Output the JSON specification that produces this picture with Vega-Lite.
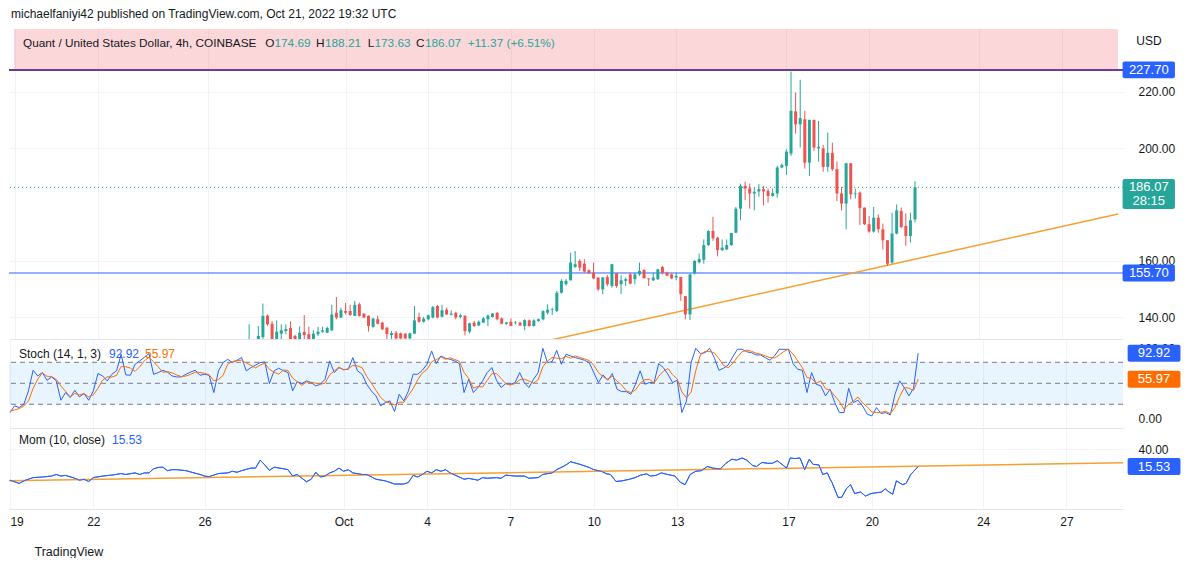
{
  "$schema": "https://vega.github.io/schema/vega-lite/v6.json",
  "background": "white",
  "padding": {"left": 8, "top": 8, "right": 0, "bottom": 0},
  "title": {"text": "michaelfaniyi42 published on TradingView.com, Oct 21, 2022 19:32 UTC", "anchor": "start", "fontSize": 12, "fontWeight": "normal", "color": "#131722", "font": "Liberation Sans", "offset": 8, "dx": 3},
  "config": {
    "font": "Liberation Sans",
    "view": {"stroke": null},
    "concat": {"spacing": 0},
    "text": {"font": "Liberation Sans", "fontSize": 12},
    "axis": {"labelFont": "Liberation Sans", "labelFontSize": 12, "labelColor": "#131722", "gridColor": "#f0f3fa", "domainColor": "#e0e3eb"}
  },
  "datasets": {
    "candles": [
      {"i":51,"o":130,"h":137.5,"l":129,"c":131.5},
      {"i":53,"o":131.5,"h":136.9,"l":130,"c":133.4},
      {"i":54,"o":133,"h":144.9,"l":131,"c":140.5},
      {"i":55,"o":140.6,"h":141,"l":137,"c":137.5},
      {"i":56,"o":137.7,"h":138.7,"l":130.5,"c":131.8},
      {"i":57,"o":131.8,"h":138.9,"l":131,"c":134.9},
      {"i":58,"o":134.2,"h":137.5,"l":131.5,"c":135.4},
      {"i":59,"o":135.1,"h":137.5,"l":134,"c":135.8},
      {"i":60,"o":136.2,"h":138.6,"l":130.8,"c":131.8},
      {"i":61,"o":133.4,"h":133.8,"l":131,"c":132},
      {"i":62,"o":132.2,"h":136.8,"l":131,"c":134.5},
      {"i":63,"o":134.8,"h":140.8,"l":131.5,"c":133.7},
      {"i":64,"o":134,"h":136.6,"l":131.5,"c":132.2},
      {"i":65,"o":132.2,"h":135.4,"l":131.8,"c":134.2},
      {"i":66,"o":134,"h":136.6,"l":133.4,"c":134.9},
      {"i":67,"o":134.9,"h":136.7,"l":134.5,"c":135.4},
      {"i":68,"o":134.5,"h":136.7,"l":134.5,"c":136.2},
      {"i":69,"o":135.4,"h":144.4,"l":135.1,"c":141},
      {"i":70,"o":141.6,"h":147.2,"l":139.3,"c":139.9},
      {"i":71,"o":139.9,"h":143.4,"l":139.9,"c":142.5},
      {"i":72,"o":142.2,"h":145.1,"l":141,"c":141.6},
      {"i":73,"o":142.2,"h":144.4,"l":140.5,"c":140.8},
      {"i":74,"o":140.5,"h":145.8,"l":140.5,"c":144.4},
      {"i":75,"o":144.6,"h":145.2,"l":140.2,"c":140.5},
      {"i":76,"o":141.3,"h":141.4,"l":139.6,"c":139.9},
      {"i":77,"o":140.5,"h":140.7,"l":134.9,"c":136.9},
      {"i":78,"o":136.6,"h":139.9,"l":136.3,"c":139.5},
      {"i":79,"o":139.3,"h":140.6,"l":137.5,"c":137.7},
      {"i":80,"o":138.1,"h":138.4,"l":135.6,"c":135.7},
      {"i":81,"o":136.3,"h":136.6,"l":132,"c":134},
      {"i":82,"o":133.7,"h":135.1,"l":132.3,"c":134.4},
      {"i":83,"o":134.5,"h":135.1,"l":131.5,"c":132.5},
      {"i":84,"o":134.3,"h":134.6,"l":131.5,"c":132.5},
      {"i":85,"o":134.2,"h":134.4,"l":131.8,"c":132.5},
      {"i":86,"o":132.5,"h":134.5,"l":131.8,"c":134.3},
      {"i":87,"o":134.2,"h":144,"l":134,"c":138.9},
      {"i":88,"o":140.1,"h":141.6,"l":138.1,"c":138.4},
      {"i":89,"o":138.4,"h":140.1,"l":138.1,"c":139.5},
      {"i":90,"o":139.3,"h":141,"l":138.9,"c":140.7},
      {"i":91,"o":139.9,"h":144,"l":139.6,"c":143.6},
      {"i":92,"o":144,"h":144.4,"l":139.6,"c":139.9},
      {"i":93,"o":140.2,"h":144.4,"l":139.9,"c":142.5},
      {"i":94,"o":142.7,"h":143.4,"l":140.8,"c":141},
      {"i":95,"o":140.9,"h":142.5,"l":140.6,"c":141.3},
      {"i":96,"o":141.6,"h":141.9,"l":139.3,"c":139.9},
      {"i":97,"o":140.1,"h":141.3,"l":139.6,"c":140.7},
      {"i":98,"o":140.5,"h":140.7,"l":133.6,"c":135.1},
      {"i":99,"o":134.9,"h":138.1,"l":134.3,"c":137.9},
      {"i":100,"o":138.1,"h":138.7,"l":136.6,"c":136.9},
      {"i":101,"o":137.1,"h":138.9,"l":136.9,"c":138.4},
      {"i":102,"o":138.1,"h":140.1,"l":138.1,"c":139.6},
      {"i":103,"o":139.3,"h":141,"l":136.9,"c":140.6},
      {"i":104,"o":140.1,"h":141.5,"l":139.9,"c":141.3},
      {"i":105,"o":141.6,"h":141.8,"l":138.9,"c":139.3},
      {"i":106,"o":139.6,"h":139.9,"l":137.5,"c":137.7},
      {"i":107,"o":137.7,"h":138.4,"l":137.3,"c":138.2},
      {"i":108,"o":138.4,"h":139.6,"l":136.9,"c":136.9},
      {"i":109,"o":137.9,"h":138.7,"l":137.5,"c":138.1},
      {"i":110,"o":138.1,"h":138.4,"l":136.9,"c":137.1},
      {"i":111,"o":136.9,"h":139.3,"l":135.4,"c":139},
      {"i":112,"o":138.9,"h":139.2,"l":136.7,"c":136.9},
      {"i":113,"o":136.9,"h":139.3,"l":136.7,"c":138.9},
      {"i":114,"o":138.7,"h":139.6,"l":138.4,"c":139.3},
      {"i":115,"o":139.3,"h":142.5,"l":138.9,"c":142.2},
      {"i":116,"o":141.6,"h":144.6,"l":141,"c":142.7},
      {"i":117,"o":142.6,"h":143.4,"l":140.8,"c":142.8},
      {"i":118,"o":142.2,"h":149.3,"l":141.9,"c":148.7},
      {"i":119,"o":148.7,"h":153.5,"l":148.4,"c":152.9},
      {"i":120,"o":151.7,"h":153.5,"l":151.2,"c":152.9},
      {"i":121,"o":153.1,"h":162.9,"l":153.1,"c":159.4},
      {"i":122,"o":157.8,"h":163.5,"l":157.6,"c":158.8},
      {"i":123,"o":160,"h":160.6,"l":156.4,"c":157.6},
      {"i":124,"o":159,"h":160.6,"l":155.8,"c":156.2},
      {"i":125,"o":156.7,"h":157,"l":155.4,"c":155.6},
      {"i":126,"o":155.8,"h":159.4,"l":153.5,"c":153.8},
      {"i":127,"o":154.1,"h":154.1,"l":149.3,"c":149.9},
      {"i":128,"o":149.9,"h":154.3,"l":148.2,"c":154.1},
      {"i":129,"o":154.3,"h":155,"l":151,"c":151.7},
      {"i":130,"o":151.1,"h":159,"l":150.5,"c":158.8},
      {"i":131,"o":155.6,"h":155.6,"l":150.5,"c":151.1},
      {"i":132,"o":151.7,"h":154.9,"l":148.2,"c":153.1},
      {"i":133,"o":152.9,"h":154.1,"l":151.1,"c":153.5},
      {"i":134,"o":155.2,"h":155.8,"l":151.7,"c":151.9},
      {"i":135,"o":153.5,"h":155.8,"l":151.7,"c":155.2},
      {"i":136,"o":155.2,"h":159.4,"l":154.7,"c":156.4},
      {"i":137,"o":156.8,"h":157,"l":153.8,"c":153.8},
      {"i":138,"o":153.8,"h":153.8,"l":151.1,"c":153.5},
      {"i":139,"o":153.1,"h":155.8,"l":152.9,"c":154.1},
      {"i":140,"o":153.5,"h":157.2,"l":153.2,"c":157},
      {"i":141,"o":157.8,"h":158.2,"l":155.2,"c":155.8},
      {"i":142,"o":155.8,"h":156.2,"l":154.7,"c":154.7},
      {"i":143,"o":155.2,"h":155.5,"l":153.5,"c":153.8},
      {"i":144,"o":154.1,"h":155.8,"l":153.1,"c":154.7},
      {"i":145,"o":154.3,"h":154.3,"l":145.8,"c":148.2},
      {"i":146,"o":147.5,"h":147.5,"l":139.3,"c":141},
      {"i":147,"o":141,"h":155.5,"l":139,"c":155.2},
      {"i":148,"o":155.5,"h":160.2,"l":155.2,"c":160},
      {"i":149,"o":159.5,"h":162.6,"l":159.1,"c":160.7},
      {"i":150,"o":160.4,"h":167.6,"l":159,"c":165.6},
      {"i":151,"o":165.6,"h":170.8,"l":165.3,"c":170.6},
      {"i":152,"o":170.6,"h":175.6,"l":167.1,"c":168},
      {"i":153,"o":168.2,"h":168.5,"l":161.6,"c":163.8},
      {"i":154,"o":163.8,"h":167.6,"l":163.5,"c":164.7},
      {"i":155,"o":164.1,"h":167.6,"l":163.8,"c":165.6},
      {"i":156,"o":165.6,"h":169.9,"l":165.3,"c":169.9},
      {"i":157,"o":170,"h":179.1,"l":169.8,"c":178.5},
      {"i":158,"o":178.5,"h":187.4,"l":174.4,"c":186.6},
      {"i":159,"o":186.6,"h":188.1,"l":181.5,"c":185.6},
      {"i":160,"o":185.7,"h":187.4,"l":178.5,"c":183.9},
      {"i":161,"o":183.9,"h":186,"l":177.9,"c":184.5},
      {"i":162,"o":184.6,"h":187.2,"l":182.7,"c":185.4},
      {"i":163,"o":185.4,"h":186.6,"l":179.7,"c":184.6},
      {"i":164,"o":184.8,"h":185.7,"l":180.7,"c":183},
      {"i":165,"o":183,"h":185.6,"l":182.8,"c":184},
      {"i":166,"o":183.9,"h":193.7,"l":182.4,"c":193.1},
      {"i":167,"o":193.1,"h":194.5,"l":192.8,"c":194},
      {"i":168,"o":193.7,"h":199.6,"l":190.5,"c":198.7},
      {"i":169,"o":198,"h":227.1,"l":197.2,"c":213.2},
      {"i":170,"o":213,"h":219.7,"l":205.1,"c":208.4},
      {"i":171,"o":208.4,"h":224.2,"l":200.2,"c":210.6},
      {"i":172,"o":210.2,"h":213.2,"l":192.7,"c":194.8},
      {"i":173,"o":194.8,"h":210,"l":190.1,"c":210},
      {"i":174,"o":210,"h":210,"l":199,"c":200.2},
      {"i":175,"o":199.9,"h":209.6,"l":195.2,"c":200.4},
      {"i":176,"o":199.9,"h":201.1,"l":191.6,"c":193.3},
      {"i":177,"o":193.3,"h":205.5,"l":191.6,"c":198.3},
      {"i":178,"o":198.3,"h":201.9,"l":191.9,"c":192.5},
      {"i":179,"o":192.5,"h":195.2,"l":181.2,"c":183.9},
      {"i":180,"o":183.9,"h":186.2,"l":177.9,"c":180.3},
      {"i":181,"o":180.3,"h":194.8,"l":171.2,"c":194.6},
      {"i":182,"o":194.6,"h":194.6,"l":181.8,"c":183.6},
      {"i":183,"o":183.6,"h":185.6,"l":182.1,"c":183.9},
      {"i":184,"o":184.2,"h":184.6,"l":172.7,"c":178.7},
      {"i":185,"o":178.9,"h":178.9,"l":172.7,"c":173},
      {"i":186,"o":173,"h":175.9,"l":170,"c":170.4},
      {"i":187,"o":170.4,"h":179.1,"l":170,"c":175.3},
      {"i":188,"o":175.3,"h":176.5,"l":170,"c":171.2},
      {"i":189,"o":171.2,"h":173.2,"l":164.1,"c":167.3},
      {"i":190,"o":167.3,"h":167.3,"l":158.2,"c":159},
      {"i":191,"o":159.4,"h":177.1,"l":159,"c":169.7},
      {"i":192,"o":169.7,"h":180,"l":169.4,"c":177.9},
      {"i":193,"o":177.7,"h":178.9,"l":171.6,"c":172},
      {"i":194,"o":172.4,"h":176.8,"l":165.3,"c":168.8},
      {"i":195,"o":168.8,"h":177.1,"l":166.5,"c":174.4},
      {"i":196,"o":174.69,"h":188.21,"l":173.63,"c":186.07}
    ],
    "stoch": [
      {"i":0,"k":8.1,"d":10},{"i":1,"k":17.7,"d":12},{"i":2,"k":15.3,"d":13.7},{"i":3,"k":20.1,"d":17.7},{"i":4,"k":39.1,"d":24.8},
      {"i":5,"k":68.6,"d":42.6},{"i":6,"k":60.5,"d":56},{"i":7,"k":65.3,"d":64.8},{"i":8,"k":54.3,"d":60},{"i":9,"k":59.1,"d":59.6},
      {"i":10,"k":53.4,"d":55.6},{"i":11,"k":25.8,"d":46.1},{"i":12,"k":36.7,"d":38.6},{"i":13,"k":29.6,"d":30.7},{"i":14,"k":40,"d":35.4},
      {"i":15,"k":30.5,"d":33.4},{"i":16,"k":35.3,"d":35.3},{"i":17,"k":25.8,"d":30.5},{"i":18,"k":39.1,"d":33.4},{"i":19,"k":63.9,"d":42.9},
      {"i":20,"k":60.5,"d":54.5},{"i":21,"k":53.4,"d":59.3},{"i":22,"k":62.9,"d":58.9},{"i":23,"k":67.7,"d":61.3},{"i":24,"k":91.5,"d":74},
      {"i":25,"k":62,"d":73.7},{"i":26,"k":61.5,"d":71.7},{"i":27,"k":77.2,"d":66.9},{"i":28,"k":82,"d":73.6},{"i":29,"k":87,"d":82.1},
      {"i":30,"k":92.4,"d":87.1},{"i":31,"k":62.9,"d":80.8},{"i":32,"k":65.3,"d":73.5},{"i":33,"k":68.6,"d":65.6},{"i":34,"k":66,"d":66.6},
      {"i":35,"k":60.5,"d":65},{"i":36,"k":59.1,"d":61.9},{"i":37,"k":59.1,"d":59.6},{"i":38,"k":62.9,"d":60.4},{"i":39,"k":66,"d":62.7},
      {"i":40,"k":68.6,"d":65.8},{"i":41,"k":61.5,"d":65.4},{"i":42,"k":62.9,"d":64.3},{"i":43,"k":61.5,"d":62},{"i":44,"k":36.7,"d":53.7},
      {"i":45,"k":67.7,"d":55.3},{"i":46,"k":79.6,"d":61.3},{"i":47,"k":84.3,"d":77.2},{"i":48,"k":79.6,"d":81.2},{"i":49,"k":83,"d":82.3},
      {"i":50,"k":86.7,"d":83.1},{"i":51,"k":67.7,"d":79.1},{"i":52,"k":72.4,"d":75.6},{"i":53,"k":76,"d":72},{"i":54,"k":79.6,"d":76},
      {"i":55,"k":80.5,"d":78.7},{"i":56,"k":49.6,"d":69.9},{"i":57,"k":67.7,"d":65.9},{"i":58,"k":71.5,"d":62.9},{"i":59,"k":68,"d":69.1},
      {"i":60,"k":65.3,"d":68.3},{"i":61,"k":39.1,"d":57.5},{"i":62,"k":52.4,"d":52.3},{"i":63,"k":49.6,"d":47},{"i":64,"k":53.4,"d":51.8},
      {"i":65,"k":51,"d":51.3},{"i":66,"k":46.2,"d":50.2},{"i":67,"k":48.6,"d":48.6},{"i":68,"k":55.8,"d":50.2},{"i":69,"k":82,"d":62.1},
      {"i":70,"k":65.3,"d":67.7},{"i":71,"k":72.4,"d":73.2},{"i":72,"k":69.6,"d":69.1},{"i":73,"k":70,"d":70.7},{"i":74,"k":86.7,"d":75.4},
      {"i":75,"k":67.7,"d":74.8},{"i":76,"k":62.9,"d":72.4},{"i":77,"k":48.6,"d":59.7},{"i":78,"k":39.1,"d":50.2},{"i":79,"k":32,"d":39.9},
      {"i":80,"k":17.7,"d":29.6},{"i":81,"k":22.4,"d":24},{"i":82,"k":24.8,"d":21.6},{"i":83,"k":9.6,"d":18.9},{"i":84,"k":34.3,"d":22.9},
      {"i":85,"k":24.8,"d":22.9},{"i":86,"k":39.1,"d":32.7},{"i":87,"k":62.9,"d":42.3},{"i":88,"k":62.9,"d":55},{"i":89,"k":68.6,"d":64.8},
      {"i":90,"k":77.2,"d":69.6},{"i":91,"k":96.2,"d":80.7},{"i":92,"k":78.1,"d":83.8},{"i":93,"k":89.1,"d":87.8},{"i":94,"k":85.7,"d":84.3},
      {"i":95,"k":84.3,"d":86.4},{"i":96,"k":82,"d":84},{"i":97,"k":78.1,"d":81.5},{"i":98,"k":36.7,"d":65.6},{"i":99,"k":55.8,"d":56.9},
      {"i":100,"k":36.7,"d":43.1},{"i":101,"k":43.9,"d":45.5},{"i":102,"k":53.4,"d":44.7},{"i":103,"k":65.3,"d":54.2},{"i":104,"k":72.4,"d":63.7},
      {"i":105,"k":54.3,"d":64},{"i":106,"k":43.9,"d":56.9},{"i":107,"k":49.6,"d":49.3},{"i":108,"k":48.6,"d":47.4},{"i":109,"k":51,"d":49.7},
      {"i":110,"k":65.3,"d":55},{"i":111,"k":51,"d":55.8},{"i":112,"k":43.9,"d":53.4},{"i":113,"k":55.8,"d":50.2},{"i":114,"k":65.3,"d":55},
      {"i":115,"k":100,"d":73.7},{"i":116,"k":79.6,"d":81.6},{"i":117,"k":81,"d":86.9},{"i":118,"k":97.2,"d":85.9},{"i":119,"k":77.2,"d":85.1},
      {"i":120,"k":91.5,"d":88.6},{"i":121,"k":89.1,"d":85.9},{"i":122,"k":86.7,"d":89.1},{"i":123,"k":85,"d":86.9},{"i":124,"k":82.9,"d":84.9},
      {"i":125,"k":79.6,"d":82.5},{"i":126,"k":65.3,"d":75.9},{"i":127,"k":51,"d":65.3},{"i":128,"k":62,"d":59.4},{"i":129,"k":54.3,"d":55.8},
      {"i":130,"k":63.9,"d":60.1},{"i":131,"k":41.5,"d":53.2},{"i":132,"k":38.1,"d":47.8},{"i":133,"k":38.1,"d":39.2},{"i":134,"k":34.3,"d":36.8},
      {"i":135,"k":48.6,"d":40.3},{"i":136,"k":67.7,"d":50.2},{"i":137,"k":48.6,"d":55},{"i":138,"k":51,"d":55.8},{"i":139,"k":51,"d":50.2},
      {"i":140,"k":78.1,"d":60},{"i":141,"k":72.4,"d":67.2},{"i":142,"k":62.9,"d":71.1},{"i":143,"k":51,"d":62.1},{"i":144,"k":54.3,"d":56.1},
      {"i":145,"k":8.1,"d":37.8},{"i":146,"k":24.8,"d":29.1},{"i":147,"k":79.6,"d":37.5},{"i":148,"k":100,"d":68.1},{"i":149,"k":92.4,"d":90.7},
      {"i":150,"k":93.8,"d":95.4},{"i":151,"k":100,"d":95.4},{"i":152,"k":86.7,"d":93.5},{"i":153,"k":68.6,"d":85.1},{"i":154,"k":71.5,"d":75.6},
      {"i":155,"k":76.2,"d":72.1},{"i":156,"k":88,"d":78.6},{"i":157,"k":98.6,"d":87.6},{"i":158,"k":98.6,"d":95.1},{"i":159,"k":95,"d":97.4},
      {"i":160,"k":93.8,"d":95.8},{"i":161,"k":90.5,"d":93.1},{"i":162,"k":90.5,"d":91.6},{"i":163,"k":86.7,"d":89.2},{"i":164,"k":82.9,"d":86.7},
      {"i":165,"k":89.1,"d":86.2},{"i":166,"k":98.6,"d":90.2},{"i":167,"k":98.6,"d":95.4},{"i":168,"k":98.6,"d":98.6},{"i":169,"k":78.1,"d":91.8},
      {"i":170,"k":70,"d":82.2},{"i":171,"k":68.6,"d":72.2},{"i":172,"k":36.7,"d":58.4},{"i":173,"k":65.3,"d":56.9},{"i":174,"k":48.6,"d":50.2},
      {"i":175,"k":46.2,"d":53.4},{"i":176,"k":32,"d":42.3},{"i":177,"k":41.5,"d":39.9},{"i":178,"k":22.4,"d":32},{"i":179,"k":8.1,"d":24},
      {"i":180,"k":8.1,"d":12.9},{"i":181,"k":42.9,"d":19.7},{"i":182,"k":22.4,"d":24.5},{"i":183,"k":25.8,"d":30.4},{"i":184,"k":17.7,"d":22},
      {"i":185,"k":5.8,"d":16.4},{"i":186,"k":3.4,"d":9},{"i":187,"k":15.3,"d":8.2},{"i":188,"k":6.7,"d":8.5},{"i":189,"k":8.1,"d":10},
      {"i":190,"k":4.8,"d":6.5},{"i":191,"k":34.3,"d":15.7},{"i":192,"k":53.4,"d":30.8},{"i":193,"k":43.9,"d":43.9},{"i":194,"k":32,"d":43.1},
      {"i":195,"k":43,"d":39.6},{"i":196,"k":92.92,"d":55.97}
    ],
    "mom": [
      {"i":0,"m":-3.6},{"i":2,"m":-8.1},{"i":3,"m":-4.5},{"i":5,"m":0},{"i":7,"m":0.8},{"i":9,"m":2.2},{"i":10,"m":4.4},{"i":11,"m":2.2},{"i":12,"m":3.1},
      {"i":14,"m":-0.9},{"i":15,"m":-3.6},{"i":16,"m":-2.3},{"i":17,"m":-5.4},{"i":18,"m":0},{"i":20,"m":2.2},{"i":22,"m":3.5},{"i":24,"m":5.7},{"i":25,"m":4.4},
      {"i":27,"m":6.6},{"i":28,"m":4.4},{"i":29,"m":6.6},{"i":30,"m":6.6},{"i":31,"m":12.4},{"i":32,"m":14.2},{"i":33,"m":14.6},{"i":34,"m":9.7},{"i":35,"m":11.1},
      {"i":36,"m":11.1},{"i":38,"m":9.7},{"i":41,"m":4.4},{"i":42,"m":2.2},{"i":43,"m":1.3},{"i":45,"m":5.7},{"i":47,"m":6.6},{"i":48,"m":8.9},{"i":49,"m":7.5},
      {"i":50,"m":9.7},{"i":52,"m":13.3},{"i":53,"m":13.3},{"i":54,"m":24.4},{"i":55,"m":17.7},{"i":56,"m":10.2},{"i":57,"m":14.6},{"i":59,"m":12.4},{"i":60,"m":11.1},
      {"i":61,"m":2.2},{"i":62,"m":4.4},{"i":64,"m":-5.8},{"i":65,"m":-2.3},{"i":66,"m":7.5},{"i":67,"m":0.8},{"i":68,"m":2.2},{"i":69,"m":6.6},{"i":70,"m":8.9},
      {"i":71,"m":13.3},{"i":72,"m":8.9},{"i":73,"m":11.1},{"i":74,"m":6.6},{"i":76,"m":4.4},{"i":77,"m":4.4},{"i":79,"m":-2.3},{"i":81,"m":-4.5},{"i":82,"m":-6.7},
      {"i":83,"m":-9},{"i":85,"m":-9},{"i":86,"m":-6.7},{"i":87,"m":3.1},{"i":88,"m":0.8},{"i":89,"m":4.4},{"i":90,"m":8.9},{"i":91,"m":6.6},{"i":92,"m":11.1},
      {"i":93,"m":8.9},{"i":94,"m":11.1},{"i":95,"m":6.6},{"i":97,"m":0.8},{"i":98,"m":-2.3},{"i":99,"m":-1},{"i":101,"m":-3.6},{"i":102,"m":0},{"i":103,"m":-0.9},
      {"i":105,"m":0},{"i":106,"m":-0.9},{"i":107,"m":3.5},{"i":109,"m":2.2},{"i":111,"m":2.2},{"i":112,"m":-0.9},{"i":114,"m":0},{"i":115,"m":4.4},{"i":117,"m":6.6},
      {"i":118,"m":11.1},{"i":120,"m":17.7},{"i":121,"m":22.2},{"i":123,"m":18.6},{"i":125,"m":14.2},{"i":126,"m":11.1},
      {"i":127.6,"m":8.9},{"i":128.8,"m":5.3},{"i":129.6,"m":4.4},{"i":130.8,"m":-5.4},{"i":132.1,"m":-4.5},{"i":133.7,"m":-2.3},{"i":134.9,"m":0},{"i":136.1,"m":3.5},
      {"i":137.4,"m":5.3},{"i":138.2,"m":2.2},{"i":139.4,"m":3.1},{"i":140.6,"m":6.6},{"i":141.9,"m":4.4},{"i":143.5,"m":2.2},{"i":144.7,"m":-6.7},{"i":145.7,"m":-9.8},
      {"i":146.8,"m":4.4},{"i":148,"m":8.9},{"i":149.2,"m":9.7},{"i":150.5,"m":15.5},{"i":151.7,"m":13.3},{"i":153.3,"m":12},{"i":154.5,"m":20},{"i":155.8,"m":25.8},
      {"i":156.8,"m":24.4},{"i":158,"m":27.5},{"i":159,"m":24.4},{"i":160.3,"m":16.9},{"i":161.1,"m":15.5},{"i":162.3,"m":21.3},{"i":163.5,"m":20},{"i":164.5,"m":20},
      {"i":165.6,"m":23.5},{"i":166.6,"m":18.6},{"i":167.6,"m":13.3},{"i":168.4,"m":27.5},{"i":169.4,"m":26.6},{"i":170.5,"m":27.5},{"i":171.5,"m":11.1},{"i":172.5,"m":25.8},
      {"i":173.3,"m":18.6},{"i":174.6,"m":17.7},{"i":175.4,"m":4.4},{"i":176.4,"m":6.6},{"i":177,"m":-2.3},{"i":177.4,"m":-6.7},{"i":178.7,"m":-27.6},{"i":179.5,"m":-27.6},
      {"i":180.5,"m":-15.6},{"i":181.4,"m":-9.8},{"i":182.3,"m":-22.3},{"i":183.6,"m":-20.1},{"i":184.6,"m":-25.9},{"i":185.8,"m":-22.3},{"i":186.8,"m":-21.4},{"i":188.1,"m":-20.1},
      {"i":188.9,"m":-15.6},{"i":189.7,"m":-20.1},{"i":190.5,"m":-23.2},{"i":191.3,"m":-4.5},{"i":192.6,"m":-9.8},{"i":193.4,"m":-8.1},{"i":194.4,"m":4.4},{"i":196,"m":15.53}
    ]
  },
  "vconcat": [
    {
      "width": 1114,
      "height": 310,
      "layer": [
        {
          "data": {"name": "candles"},
          "mark": {"type": "rule", "strokeWidth": 1, "clip": true, "opacity": 0},
          "encoding": {
            "x": {"field": "i", "type": "quantitative", "scale": {"domain": [-0.2, 240.2], "nice": false, "zero": false},
                  "axis": {"orient": "bottom", "labels": false, "ticks": false, "domain": true, "domainColor": "#e0e3eb", "grid": true, "gridColor": "#f0f3fa", "values": [0, 18, 42, 72, 90, 108, 126, 144, 168, 186, 210, 228], "title": null}},
            "y": {"field": "l", "type": "quantitative", "scale": {"domain": [132.3, 242.2], "nice": false, "zero": false},
                  "axis": {"orient": "right", "values": [140, 160, 200, 220], "format": ".2f", "grid": true, "gridColor": "#f0f3fa", "domain": false, "ticks": false, "tickSize": 0, "labelPadding": 15, "title": null}},
            "y2": {"field": "h"}
          }
        },
        {
          "data": {"values": [{}]},
          "mark": {"type": "rect", "color": "#f23645", "opacity": 0.2},
          "encoding": {
            "x": {"datum": -0.2, "type": "quantitative", "scale": {"domain": [-0.2, 240.2], "nice": false, "zero": false}},
            "x2": {"datum": 240.2},
            "y": {"datum": 227.7, "type": "quantitative", "scale": {"domain": [132.3, 242.2], "nice": false, "zero": false}, "axis": {"orient": "right"}},
            "y2": {"datum": 242.2}
          }
        },
        {
          "data": {"values": [{}]},
          "mark": {"type": "rule", "color": "#2962ff", "strokeWidth": 1},
          "encoding": {"y": {"datum": 155.7, "type": "quantitative", "axis": {"orient": "right"}}}
        },
        {
          "data": {"values": [{}]},
          "mark": {"type": "rule", "color": "#6a3d8f", "strokeWidth": 2},
          "encoding": {"y": {"datum": 227.7, "type": "quantitative", "axis": {"orient": "right"}}}
        },
        {
          "data": {"values": [{}]},
          "mark": {"type": "rule", "color": "#26a69a", "strokeWidth": 1, "strokeDash": [1, 3]},
          "encoding": {"y": {"datum": 186.07, "type": "quantitative", "axis": {"orient": "right"}}}
        },
        {
          "data": {"values": [{"i": 110, "p": 129.5}, {"i": 240.2, "p": 176.6}]},
          "mark": {"type": "line", "color": "#f5a030", "strokeWidth": 1.5, "clip": true},
          "encoding": {
            "x": {"field": "i", "type": "quantitative"},
            "y": {"field": "p", "type": "quantitative", "axis": {"orient": "right"}}
          }
        },
        {
          "data": {"name": "candles"},
          "mark": {"type": "rule", "strokeWidth": 1, "clip": true},
          "encoding": {
            "x": {"field": "i", "type": "quantitative"},
            "y": {"field": "l", "type": "quantitative", "axis": {"orient": "right"}},
            "y2": {"field": "h"},
            "color": {"condition": {"test": "datum.c >= datum.o", "value": "#26a69a"}, "value": "#ef5350"}
          }
        },
        {
          "data": {"name": "candles"},
          "mark": {"type": "bar", "width": 3, "clip": true},
          "encoding": {
            "x": {"field": "i", "type": "quantitative"},
            "y": {"field": "o", "type": "quantitative", "axis": {"orient": "right"}},
            "y2": {"field": "c"},
            "color": {"condition": {"test": "datum.c >= datum.o", "value": "#26a69a"}, "value": "#ef5350"}
          }
        },
        {"data": {"values": [{}]}, "mark": {"type": "text", "text": "Quant / United States Dollar, 4h, COINBASE", "align": "left", "baseline": "middle", "dx": 9, "fontSize": 11.8, "color": "#131722"},
         "encoding": {"x": {"datum": -0.2, "type": "quantitative"}, "y": {"datum": 237.3, "type": "quantitative", "axis": {"orient": "right"}}}},
        {"data": {"values": [{}]}, "mark": {"type": "text", "text": "O", "align": "left", "baseline": "middle", "dx": 251.3, "fontSize": 11.8, "color": "#131722"},
         "encoding": {"x": {"datum": -0.2, "type": "quantitative"}, "y": {"datum": 237.3, "type": "quantitative", "axis": {"orient": "right"}}}},
        {"data": {"values": [{}]}, "mark": {"type": "text", "text": "174.69", "align": "left", "baseline": "middle", "dx": 260.5, "fontSize": 11.8, "color": "#26a69a"},
         "encoding": {"x": {"datum": -0.2, "type": "quantitative"}, "y": {"datum": 237.3, "type": "quantitative", "axis": {"orient": "right"}}}},
        {"data": {"values": [{}]}, "mark": {"type": "text", "text": "H", "align": "left", "baseline": "middle", "dx": 302, "fontSize": 11.8, "color": "#131722"},
         "encoding": {"x": {"datum": -0.2, "type": "quantitative"}, "y": {"datum": 237.3, "type": "quantitative", "axis": {"orient": "right"}}}},
        {"data": {"values": [{}]}, "mark": {"type": "text", "text": "188.21", "align": "left", "baseline": "middle", "dx": 311, "fontSize": 11.8, "color": "#26a69a"},
         "encoding": {"x": {"datum": -0.2, "type": "quantitative"}, "y": {"datum": 237.3, "type": "quantitative", "axis": {"orient": "right"}}}},
        {"data": {"values": [{}]}, "mark": {"type": "text", "text": "L", "align": "left", "baseline": "middle", "dx": 353.7, "fontSize": 11.8, "color": "#131722"},
         "encoding": {"x": {"datum": -0.2, "type": "quantitative"}, "y": {"datum": 237.3, "type": "quantitative", "axis": {"orient": "right"}}}},
        {"data": {"values": [{}]}, "mark": {"type": "text", "text": "173.63", "align": "left", "baseline": "middle", "dx": 360.5, "fontSize": 11.8, "color": "#26a69a"},
         "encoding": {"x": {"datum": -0.2, "type": "quantitative"}, "y": {"datum": 237.3, "type": "quantitative", "axis": {"orient": "right"}}}},
        {"data": {"values": [{}]}, "mark": {"type": "text", "text": "C", "align": "left", "baseline": "middle", "dx": 402, "fontSize": 11.8, "color": "#131722"},
         "encoding": {"x": {"datum": -0.2, "type": "quantitative"}, "y": {"datum": 237.3, "type": "quantitative", "axis": {"orient": "right"}}}},
        {"data": {"values": [{}]}, "mark": {"type": "text", "text": "186.07", "align": "left", "baseline": "middle", "dx": 411, "fontSize": 11.8, "color": "#26a69a"},
         "encoding": {"x": {"datum": -0.2, "type": "quantitative"}, "y": {"datum": 237.3, "type": "quantitative", "axis": {"orient": "right"}}}},
        {"data": {"values": [{}]}, "mark": {"type": "text", "text": "+11.37 (+6.51%)", "align": "left", "baseline": "middle", "dx": 453.7, "fontSize": 11.8, "color": "#26a69a"},
         "encoding": {"x": {"datum": -0.2, "type": "quantitative"}, "y": {"datum": 237.3, "type": "quantitative", "axis": {"orient": "right"}}}},
        {"data": {"values": [{}]}, "mark": {"type": "text", "text": "USD", "align": "left", "baseline": "middle", "color": "#131722"},
         "encoding": {"x": {"datum": 244.2, "type": "quantitative"}, "y": {"datum": 237.8, "type": "quantitative", "axis": {"orient": "right"}}}},
        {"data": {"values": [{}]}, "mark": {"type": "rect", "color": "#2962ff", "cornerRadius": 2},
         "encoding": {"x": {"datum": 241.2, "type": "quantitative"}, "x2": {"datum": 252.6}, "y": {"datum": 224.7, "type": "quantitative", "axis": {"orient": "right"}}, "y2": {"datum": 230.7}}},
        {"data": {"values": [{}]}, "mark": {"type": "text", "text": "227.70", "align": "center", "baseline": "middle", "color": "white", "fontSize": 13},
         "encoding": {"x": {"datum": 246.9, "type": "quantitative"}, "y": {"datum": 227.7, "type": "quantitative", "axis": {"orient": "right"}}}},
        {"data": {"values": [{}]}, "mark": {"type": "rect", "color": "#26a69a", "cornerRadius": 2},
         "encoding": {"x": {"datum": 241.2, "type": "quantitative"}, "x2": {"datum": 252.6}, "y": {"datum": 178.4, "type": "quantitative", "axis": {"orient": "right"}}, "y2": {"datum": 189.0}}},
        {"data": {"values": [{}]}, "mark": {"type": "text", "text": "186.07", "align": "center", "baseline": "middle", "color": "white", "fontSize": 13},
         "encoding": {"x": {"datum": 246.9, "type": "quantitative"}, "y": {"datum": 186.1, "type": "quantitative", "axis": {"orient": "right"}}}},
        {"data": {"values": [{}]}, "mark": {"type": "text", "text": "28:15", "align": "center", "baseline": "middle", "color": "white", "fontSize": 13},
         "encoding": {"x": {"datum": 246.9, "type": "quantitative"}, "y": {"datum": 181.2, "type": "quantitative", "axis": {"orient": "right"}}}},
        {"data": {"values": [{}]}, "mark": {"type": "rect", "color": "#2962ff", "cornerRadius": 2},
         "encoding": {"x": {"datum": 241.2, "type": "quantitative"}, "x2": {"datum": 252.6}, "y": {"datum": 152.7, "type": "quantitative", "axis": {"orient": "right"}}, "y2": {"datum": 158.7}}},
        {"data": {"values": [{}]}, "mark": {"type": "text", "text": "155.70", "align": "center", "baseline": "middle", "color": "white", "fontSize": 13},
         "encoding": {"x": {"datum": 246.9, "type": "quantitative"}, "y": {"datum": 155.7, "type": "quantitative", "axis": {"orient": "right"}}}}
      ]
    },
    {
      "width": 1114,
      "height": 89,
      "layer": [
        {
          "data": {"name": "stoch"},
          "mark": {"type": "line", "color": "#2962ff", "strokeWidth": 1, "clip": true, "opacity": 0},
          "encoding": {
            "x": {"field": "i", "type": "quantitative", "scale": {"domain": [-0.2, 240.2], "nice": false, "zero": false},
                  "axis": {"orient": "bottom", "labels": false, "ticks": false, "domain": true, "domainColor": "#e0e3eb", "grid": true, "gridColor": "#f0f3fa", "values": [0, 18, 42, 72, 90, 108, 126, 144, 168, 186, 210, 228], "title": null}},
            "y": {"field": "k", "type": "quantitative", "scale": {"domain": [-13.9, 113.3], "nice": false, "zero": false},
                  "axis": {"orient": "right", "values": [0, 100], "format": ".2f", "grid": false, "domain": false, "ticks": false, "tickSize": 0, "labelPadding": 15, "title": null}}
          }
        },
        {
          "data": {"values": [{}]},
          "mark": {"type": "rect", "color": "#2196f3", "opacity": 0.1},
          "encoding": {
            "x": {"datum": -0.2, "type": "quantitative"},
            "x2": {"datum": 240.2},
            "y": {"datum": 20, "type": "quantitative", "axis": {"orient": "right"}},
            "y2": {"datum": 80}
          }
        },
        {
          "data": {"values": [{"v": 80}, {"v": 50}, {"v": 20}]},
          "mark": {"type": "rule", "color": "#787b86", "strokeWidth": 1, "strokeDash": [5, 4]},
          "encoding": {"y": {"field": "v", "type": "quantitative", "axis": {"orient": "right"}}}
        },
        {
          "data": {"name": "stoch"},
          "mark": {"type": "line", "color": "#2962ff", "strokeWidth": 1, "clip": true},
          "encoding": {
            "x": {"field": "i", "type": "quantitative"},
            "y": {"field": "k", "type": "quantitative", "axis": {"orient": "right"}}
          }
        },
        {
          "data": {"name": "stoch"},
          "mark": {"type": "line", "color": "#ff6d00", "strokeWidth": 1, "clip": true},
          "encoding": {
            "x": {"field": "i", "type": "quantitative"},
            "y": {"field": "d", "type": "quantitative", "axis": {"orient": "right"}}
          }
        },
        {"data": {"values": [{}]}, "mark": {"type": "text", "text": "Stoch (14, 1, 3)", "align": "left", "baseline": "middle", "dx": 10, "color": "#131722"},
         "encoding": {"x": {"datum": -0.2, "type": "quantitative"}, "y": {"datum": 91.9, "type": "quantitative", "axis": {"orient": "right"}}}},
        {"data": {"values": [{}]}, "mark": {"type": "text", "text": "92.92", "align": "left", "baseline": "middle", "dx": 100, "color": "#2962ff"},
         "encoding": {"x": {"datum": -0.2, "type": "quantitative"}, "y": {"datum": 91.9, "type": "quantitative", "axis": {"orient": "right"}}}},
        {"data": {"values": [{}]}, "mark": {"type": "text", "text": "55.97", "align": "left", "baseline": "middle", "dx": 136, "color": "#ff6d00"},
         "encoding": {"x": {"datum": -0.2, "type": "quantitative"}, "y": {"datum": 91.9, "type": "quantitative", "axis": {"orient": "right"}}}},
        {"data": {"values": [{}]}, "mark": {"type": "rect", "color": "#2962ff", "cornerRadius": 2},
         "encoding": {"x": {"datum": 241.2, "type": "quantitative"}, "x2": {"datum": 252.6}, "y": {"datum": 80.8, "type": "quantitative", "axis": {"orient": "right"}}, "y2": {"datum": 105}}},
        {"data": {"values": [{}]}, "mark": {"type": "text", "text": "92.92", "align": "center", "baseline": "middle", "color": "white", "fontSize": 13},
         "encoding": {"x": {"datum": 246.9, "type": "quantitative"}, "y": {"datum": 92.92, "type": "quantitative", "axis": {"orient": "right"}}}},
        {"data": {"values": [{}]}, "mark": {"type": "rect", "color": "#ff6d00", "cornerRadius": 2},
         "encoding": {"x": {"datum": 241.2, "type": "quantitative"}, "x2": {"datum": 252.6}, "y": {"datum": 43.8, "type": "quantitative", "axis": {"orient": "right"}}, "y2": {"datum": 68.1}}},
        {"data": {"values": [{}]}, "mark": {"type": "text", "text": "55.97", "align": "center", "baseline": "middle", "color": "white", "fontSize": 13},
         "encoding": {"x": {"datum": 246.9, "type": "quantitative"}, "y": {"datum": 55.97, "type": "quantitative", "axis": {"orient": "right"}}}}
      ]
    },
    {
      "width": 1114,
      "height": 81,
      "layer": [
        {
          "data": {"name": "mom"},
          "mark": {"type": "line", "color": "#2962ff", "strokeWidth": 1, "clip": true},
          "encoding": {
            "x": {"field": "i", "type": "quantitative", "scale": {"domain": [-0.2, 240.2], "nice": false, "zero": false},
                  "axis": {"orient": "bottom", "labels": true, "ticks": false, "domain": true, "domainColor": "#e0e3eb", "grid": true, "gridColor": "#f0f3fa",
                           "values": [0, 18, 42, 72, 90, 108, 126, 144, 168, 186, 210, 228],
                           "labelExpr": "['19','22','26','Oct','4','7','10','13','17','20','24','27'][indexof([0,18,42,72,90,108,126,144,168,186,210,228], datum.value)]",
                           "labelPadding": 7, "labelFlush": 2, "labelOverlap": false,
                           "title": "TradingView", "titleAnchor": "start", "titleAlign": "left", "titleX": 25, "titlePadding": 18, "titleFontSize": 12.5, "titleFontWeight": "normal", "titleColor": "#131722", "titleFont": "Liberation Sans"}},
            "y": {"field": "m", "type": "quantitative", "scale": {"domain": [-43.9, 69.4], "nice": false, "zero": false},
                  "axis": {"orient": "right", "values": [40], "format": ".2f", "grid": true, "gridColor": "#f0f3fa", "domain": false, "ticks": false, "tickSize": 0, "labelPadding": 15, "title": null}}
          }
        },
        {
          "data": {"values": [{"i": -0.2, "m": -4.5}, {"i": 240.2, "m": 20.7}]},
          "mark": {"type": "line", "color": "#f5a030", "strokeWidth": 1.5, "clip": true},
          "encoding": {
            "x": {"field": "i", "type": "quantitative"},
            "y": {"field": "m", "type": "quantitative", "axis": {"orient": "right"}}
          }
        },
        {
          "data": {"name": "mom"},
          "mark": {"type": "line", "color": "#2962ff", "strokeWidth": 1, "clip": true},
          "encoding": {
            "x": {"field": "i", "type": "quantitative"},
            "y": {"field": "m", "type": "quantitative", "axis": {"orient": "right"}}
          }
        },
        {"data": {"values": [{}]}, "mark": {"type": "text", "text": "Mom (10, close)", "align": "left", "baseline": "middle", "dx": 10, "color": "#131722"},
         "encoding": {"x": {"datum": -0.2, "type": "quantitative"}, "y": {"datum": 52.6, "type": "quantitative", "axis": {"orient": "right"}}}},
        {"data": {"values": [{}]}, "mark": {"type": "text", "text": "15.53", "align": "left", "baseline": "middle", "dx": 103, "color": "#2962ff"},
         "encoding": {"x": {"datum": -0.2, "type": "quantitative"}, "y": {"datum": 52.6, "type": "quantitative", "axis": {"orient": "right"}}}},
        {"data": {"values": [{}]}, "mark": {"type": "rect", "color": "#2962ff", "cornerRadius": 2},
         "encoding": {"x": {"datum": 241.2, "type": "quantitative"}, "x2": {"datum": 252.6}, "y": {"datum": 3.6, "type": "quantitative", "axis": {"orient": "right"}}, "y2": {"datum": 27.4}}},
        {"data": {"values": [{}]}, "mark": {"type": "text", "text": "15.53", "align": "center", "baseline": "middle", "color": "white", "fontSize": 13},
         "encoding": {"x": {"datum": 246.9, "type": "quantitative"}, "y": {"datum": 15.53, "type": "quantitative", "axis": {"orient": "right"}}}}
      ]
    }
  ]
}
